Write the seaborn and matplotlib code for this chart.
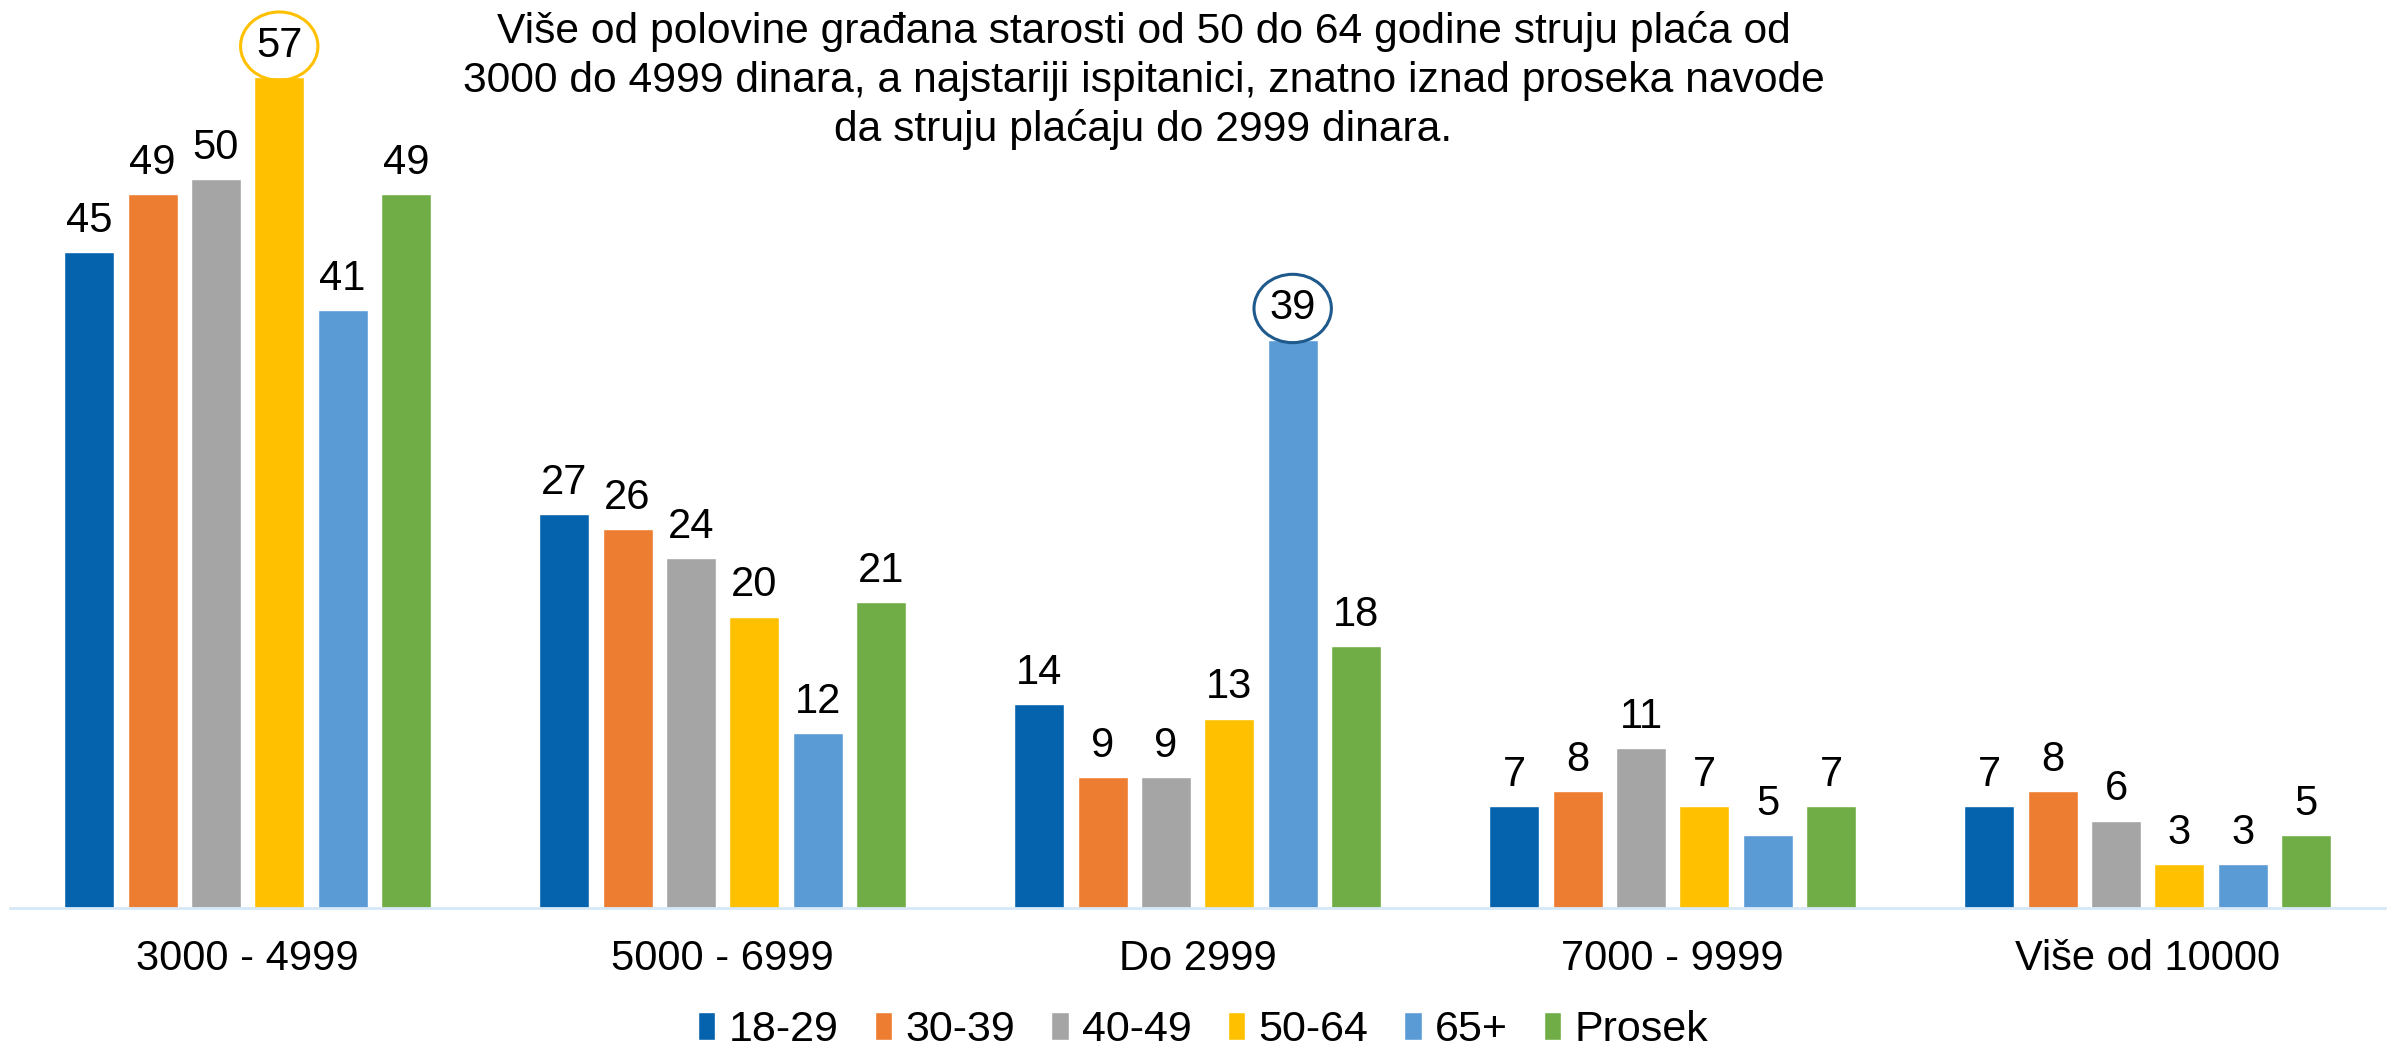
import matplotlib
matplotlib.use("Agg")
import matplotlib.pyplot as plt
from matplotlib.patches import Patch
import pandas as pd
import seaborn as sns

CATEGORIES = ["3000 - 4999", "5000 - 6999", "Do 2999", "7000 - 9999", "Više od 10000"]
GROUPS = ["18-29", "30-39", "40-49", "50-64", "65+", "Prosek"]
VALUES = {
    "18-29":  [45, 27, 14, 7, 7],
    "30-39":  [49, 26, 9, 8, 8],
    "40-49":  [50, 24, 9, 11, 6],
    "50-64":  [57, 20, 13, 7, 3],
    "65+":    [41, 12, 39, 5, 3],
    "Prosek": [49, 21, 18, 7, 5],
}
COLORS = ["#0563AE", "#ED7D31", "#A5A5A5", "#FFC000", "#5B9BD5", "#70AD47"]
TITLE = ("Više od polovine građana starosti od 50 do 64 godine struju plaća od\n"
         "3000 do 4999 dinara, a najstariji ispitanici, znatno iznad proseka navode\n"
         "da struju plaćaju do 2999 dinara.")
# (group, category) labels that get an ellipse around them
HIGHLIGHT = {("50-64", "3000 - 4999"): "#FFC000", ("65+", "Do 2999"): "#1F5A8C"}

rows = [(c, g, v) for g in GROUPS for c, v in zip(CATEGORIES, VALUES[g])]
df = pd.DataFrame(rows, columns=["kategorija", "grupa", "procenat"])

sns.set_theme(style="white")
plt.rcParams["font.family"] = ["Liberation Sans", "DejaVu Sans"]
plt.rcParams["text.color"] = "black"
plt.rcParams["xtick.color"] = "black"

fig = plt.figure(figsize=(23.92, 10.49), dpi=100)
ax = fig.add_axes([0.0042, 0.1344, 0.993, 0.8656])

sns.barplot(data=df, x="kategorija", y="procenat", hue="grupa",
            order=CATEGORIES, hue_order=GROUPS, palette=COLORS,
            saturation=1, width=0.8, gap=0.21, legend=False, ax=ax)

ax.set_ylim(0, 62.3)
ax.set_xlim(-0.5, 4.5)
for side in ("top", "right", "left"):
    ax.spines[side].set_visible(False)
ax.spines["bottom"].set_color("#D6E8F7")
ax.spines["bottom"].set_linewidth(2)
ax.set_yticks([])
ax.set(xlabel="", ylabel="")
ax.tick_params(axis="x", length=0, pad=22, labelsize=30, labelcolor="black")

for cont, g in zip(ax.containers, GROUPS):
    texts = ax.bar_label(cont, fmt="%d", padding=8, fontsize=30, color="black")
    for t, c in zip(texts, CATEGORIES):
        if (g, c) in HIGHLIGHT:
            t.set_bbox(dict(boxstyle="ellipse,pad=0.1", fc="none",
                            ec=HIGHLIGHT[(g, c)], lw=2.2))

fig.text(0.478, 0.923, TITLE, ha="center", va="center", fontsize=30.7,
         linespacing=1.27, color="black")

handles = [Patch(facecolor=col, label=g) for g, col in zip(GROUPS, COLORS)]
fig.legend(handles=handles, loc="center", bbox_to_anchor=(0.503, 0.018),
           ncol=6, frameon=False, fontsize=31, handlelength=0.4,
           handleheight=0.65, handletextpad=0.3, columnspacing=0.85)

fig.savefig("out.png", dpi=100)
